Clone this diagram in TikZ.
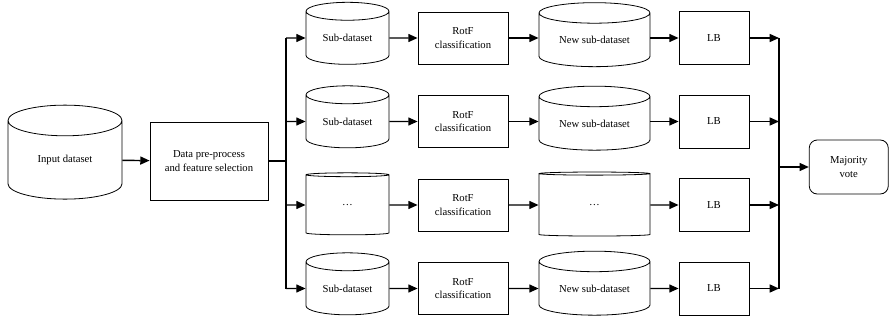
\documentclass[tikz,border=0pt]{standalone}
\usepackage{fontspec}
\setmainfont{Liberation Serif}
\usetikzlibrary{arrows.meta, positioning, shapes.geometric}

\tikzset{
  store/.style={draw, line width=0.6pt, cylinder, shape border rotate=90, aspect=0.36, inner sep=0pt, align=center},
  procbox/.style={draw, line width=0.6pt, rectangle, inner sep=0pt, align=center},
  flow/.style={line width=1.1pt, -{Triangle[length=7pt,width=6pt]}},
  link/.style={line width=1.1pt}
}

\begin{document}
\begin{tikzpicture}[x=0.75pt, y=-0.75pt, font=\fontsize{8}{10}\selectfont]
                \useasboundingbox (0,0) rectangle (889,321);

                % Input side
                \node[store, aspect=0.56, minimum width=85.5pt, minimum height=70.5pt] (input) at (65,160) {Input dataset};
                \node[procbox, minimum width=88.5pt, minimum height=58.5pt] (prep) at (209,161) {Data pre-process\\and feature selection};

                % Sub-datasets
                \node[store, minimum width=62.25pt, minimum height=46.5pt] (sub1) at (347.5,38) {Sub-dataset};
                \node[store, minimum width=62.25pt, minimum height=46.5pt] (sub2) at (347.5,121.5) {Sub-dataset};
                \node[store, minimum width=62.25pt, minimum height=46.5pt] (sub3) at (347.5,205) {\dots};
                \node[store, minimum width=62.25pt, minimum height=46.5pt] (sub4) at (347.5,288.5) {Sub-dataset};

                % RotF classifiers
                \node[procbox, minimum width=67.5pt, minimum height=39pt] (rotf1) at (463,38) {RotF\\classification};
                \node[procbox, minimum width=67.5pt, minimum height=39pt] (rotf2) at (463,121.5) {RotF\\classification};
                \node[procbox, minimum width=67.5pt, minimum height=39pt] (rotf3) at (463,205) {RotF\\classification};
                \node[procbox, minimum width=67.5pt, minimum height=39pt] (rotf4) at (463,288.5) {RotF\\classification};

                % New sub-datasets
                \node[store, aspect=0.29, minimum width=83.25pt, minimum height=48pt] (new1) at (594.5,40) {New sub-dataset};
                \node[store, aspect=0.29, minimum width=83.25pt, minimum height=48pt] (new2) at (594.5,123.5) {New sub-dataset};
                \node[store, aspect=0.29, minimum width=83.25pt, minimum height=48pt] (new3) at (594.5,205) {\dots};
                \node[store, aspect=0.29, minimum width=83.25pt, minimum height=48pt] (new4) at (594.5,288.5) {New sub-dataset};

                % LB boxes
                \node[procbox, minimum width=52.5pt, minimum height=39.75pt] (lb1) at (714,38) {LB};
                \node[procbox, minimum width=52.5pt, minimum height=39.75pt] (lb2) at (714,121.5) {LB};
                \node[procbox, minimum width=52.5pt, minimum height=39.75pt] (lb3) at (714,205) {LB};
                \node[procbox, minimum width=52.5pt, minimum height=39.75pt] (lb4) at (714,288.5) {LB};

                % Vote
                \node[procbox, rounded corners=6pt, minimum width=59.25pt, minimum height=40.5pt] (vote) at (848.75,167) {Majority\\vote};

                % Split and join points
                \coordinate (split) at (286,161);
                \coordinate (splittop) at (286,38);
                \coordinate (splitbot) at (286,288.5);
                \coordinate (jointop) at (779,38);
                \coordinate (joinbot) at (779,288.5);
                \coordinate (join) at (779,167);

                % Input flow
                \draw[flow] (input) -- (prep);
                \draw[link] (prep) -- (split);
                \draw[link] (splittop) -- (splitbot);
                \draw[link] (jointop) -- (joinbot);
                \draw[flow] (join) -- (vote);

                % Row flows
                \draw[flow] (splittop) -- (sub1);
                \draw[flow] (splittop |- sub2) -- (sub2);
                \draw[flow] (splittop |- sub3) -- (sub3);
                \draw[flow] (splitbot) -- (sub4);
                \draw[flow] (sub1) -- (rotf1);
                \draw[flow] (sub2) -- (rotf2);
                \draw[flow] (sub3) -- (rotf3);
                \draw[flow] (sub4) -- (rotf4);
                \draw[flow] (rotf1) -- (new1.west |- rotf1);
                \draw[flow] (rotf2) -- (new2.west |- rotf2);
                \draw[flow] (rotf3) -- (new3);
                \draw[flow] (rotf4) -- (new4);
                \draw[flow] (new1.east |- lb1) -- (lb1);
                \draw[flow] (new2.east |- lb2) -- (lb2);
                \draw[flow] (new3) -- (lb3);
                \draw[flow] (new4) -- (lb4);
                \draw[flow] (lb1) -- (jointop);
                \draw[flow] (lb2) -- (jointop |- lb2);
                \draw[flow] (lb3) -- (jointop |- lb3);
                \draw[flow] (lb4) -- (joinbot);
            \end{tikzpicture}
\end{document}
